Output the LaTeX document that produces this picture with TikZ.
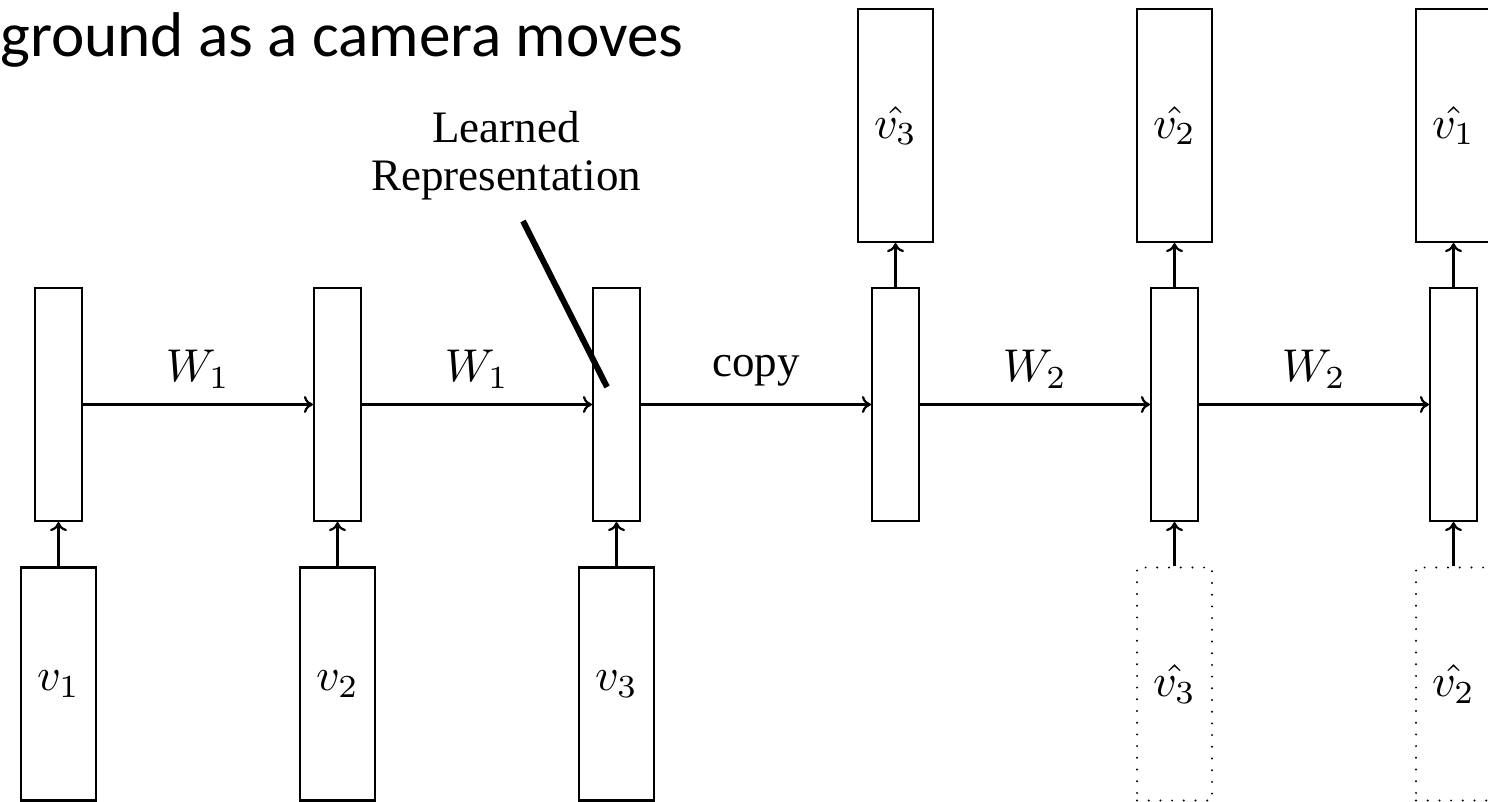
\documentclass[tikz,border=0pt]{standalone}
\usepackage{fontspec}
\usepackage{graphicx}
\newfontfamily\titlefont{Carlito}
\newfontfamily\timesfont{Liberation Serif}
\newcommand{\mlab}[1]{\scalebox{2.3}{$#1$}}
\usetikzlibrary{arrows.meta}
\begin{document}
\begin{tikzpicture}[x=0.5pt,y=-0.5pt,
  box/.style={draw, line width=1.1pt, inner sep=0pt, minimum width=37.5pt, minimum height=116.5pt},
  hid/.style={draw, line width=1.1pt, inner sep=0pt, minimum width=23.5pt, minimum height=116.5pt},
  ghost/.style={box, dash pattern=on 0pt off 5.85pt, line cap=round},
  arr/.style={line width=1.1pt, -{To[length=4.5pt,width=8.5pt]}},
  lab/.style={inner sep=0pt, anchor=base},
  txt/.style={font=\timesfont\fontsize{22.5}{24}\selectfont, inner sep=0pt},
  ttl/.style={font=\titlefont\fontsize{31.6}{36}\selectfont, inner sep=0pt}
]
\useasboundingbox (0,0) rectangle (1488,802);
\clip (0,0) rectangle (1488,802);

\node[ttl, anchor=base west] (title) at (0,57) {ground as a camera moves};

% hidden states
\node[hid] (h1) at (58.5,404.5) {};
\node[hid] (h2) at (337.5,404.5) {};
\node[hid] (h3) at (616.5,404.5) {};
\node[hid] (h4) at (895.5,404.5) {};
\node[hid] (h5) at (1174.5,404.5) {};
\node[hid] (h6) at (1453.5,404.5) {};

% inputs
\node[box] (i1) at (58.5,684) {\mlab{v_1}};
\node[box] (i2) at (337.5,684) {\mlab{v_2}};
\node[box] (i3) at (616.5,684) {\mlab{v_3}};

% outputs
\node[box] (o4) at (895.5,125.5) {\mlab{\hat{v_3}}};
\node[box] (o5) at (1174.5,125.5) {\mlab{\hat{v_2}}};
\node[box] (o6) at (1453.5,125.5) {\mlab{\hat{v_1}}};

% fed-back predictions
\node[ghost] (g5) at (1174.5,684) {\mlab{\hat{v_3}}};
\node[ghost] (g6) at (1453.5,684) {\mlab{\hat{v_2}}};

% vertical arrows
\draw[arr] (i1) -- (h1);
\draw[arr] (i2) -- (h2);
\draw[arr] (i3) -- (h3);
\draw[arr] (g5) -- (h5);
\draw[arr] (g6) -- (h6);
\draw[arr] (h4) -- (o4);
\draw[arr] (h5) -- (o5);
\draw[arr] (h6) -- (o6);

% horizontal arrows
\draw[arr] (h1) -- node[lab, yshift=11.5pt] {\mlab{W_1}} (h2);
\draw[arr] (h2) -- node[lab, yshift=11.5pt] {\mlab{W_1}} (h3);
\draw[arr] (h3) -- node[lab, font=\timesfont\fontsize{22.5}{24}\selectfont, yshift=14pt] {copy} (h4);
\draw[arr] (h4) -- node[lab, yshift=11.5pt] {\mlab{W_2}} (h5);
\draw[arr] (h5) -- node[lab, yshift=11.5pt] {\mlab{W_2}} (h6);

% learned representation label
\node[txt, align=center] (lr) at (506,156) {Learned\\Representation};
\coordinate (p0) at (523,221);
\coordinate (p1) at (607,387);
\draw[line width=3pt] (p0) -- (p1);
\end{tikzpicture}
\end{document}
